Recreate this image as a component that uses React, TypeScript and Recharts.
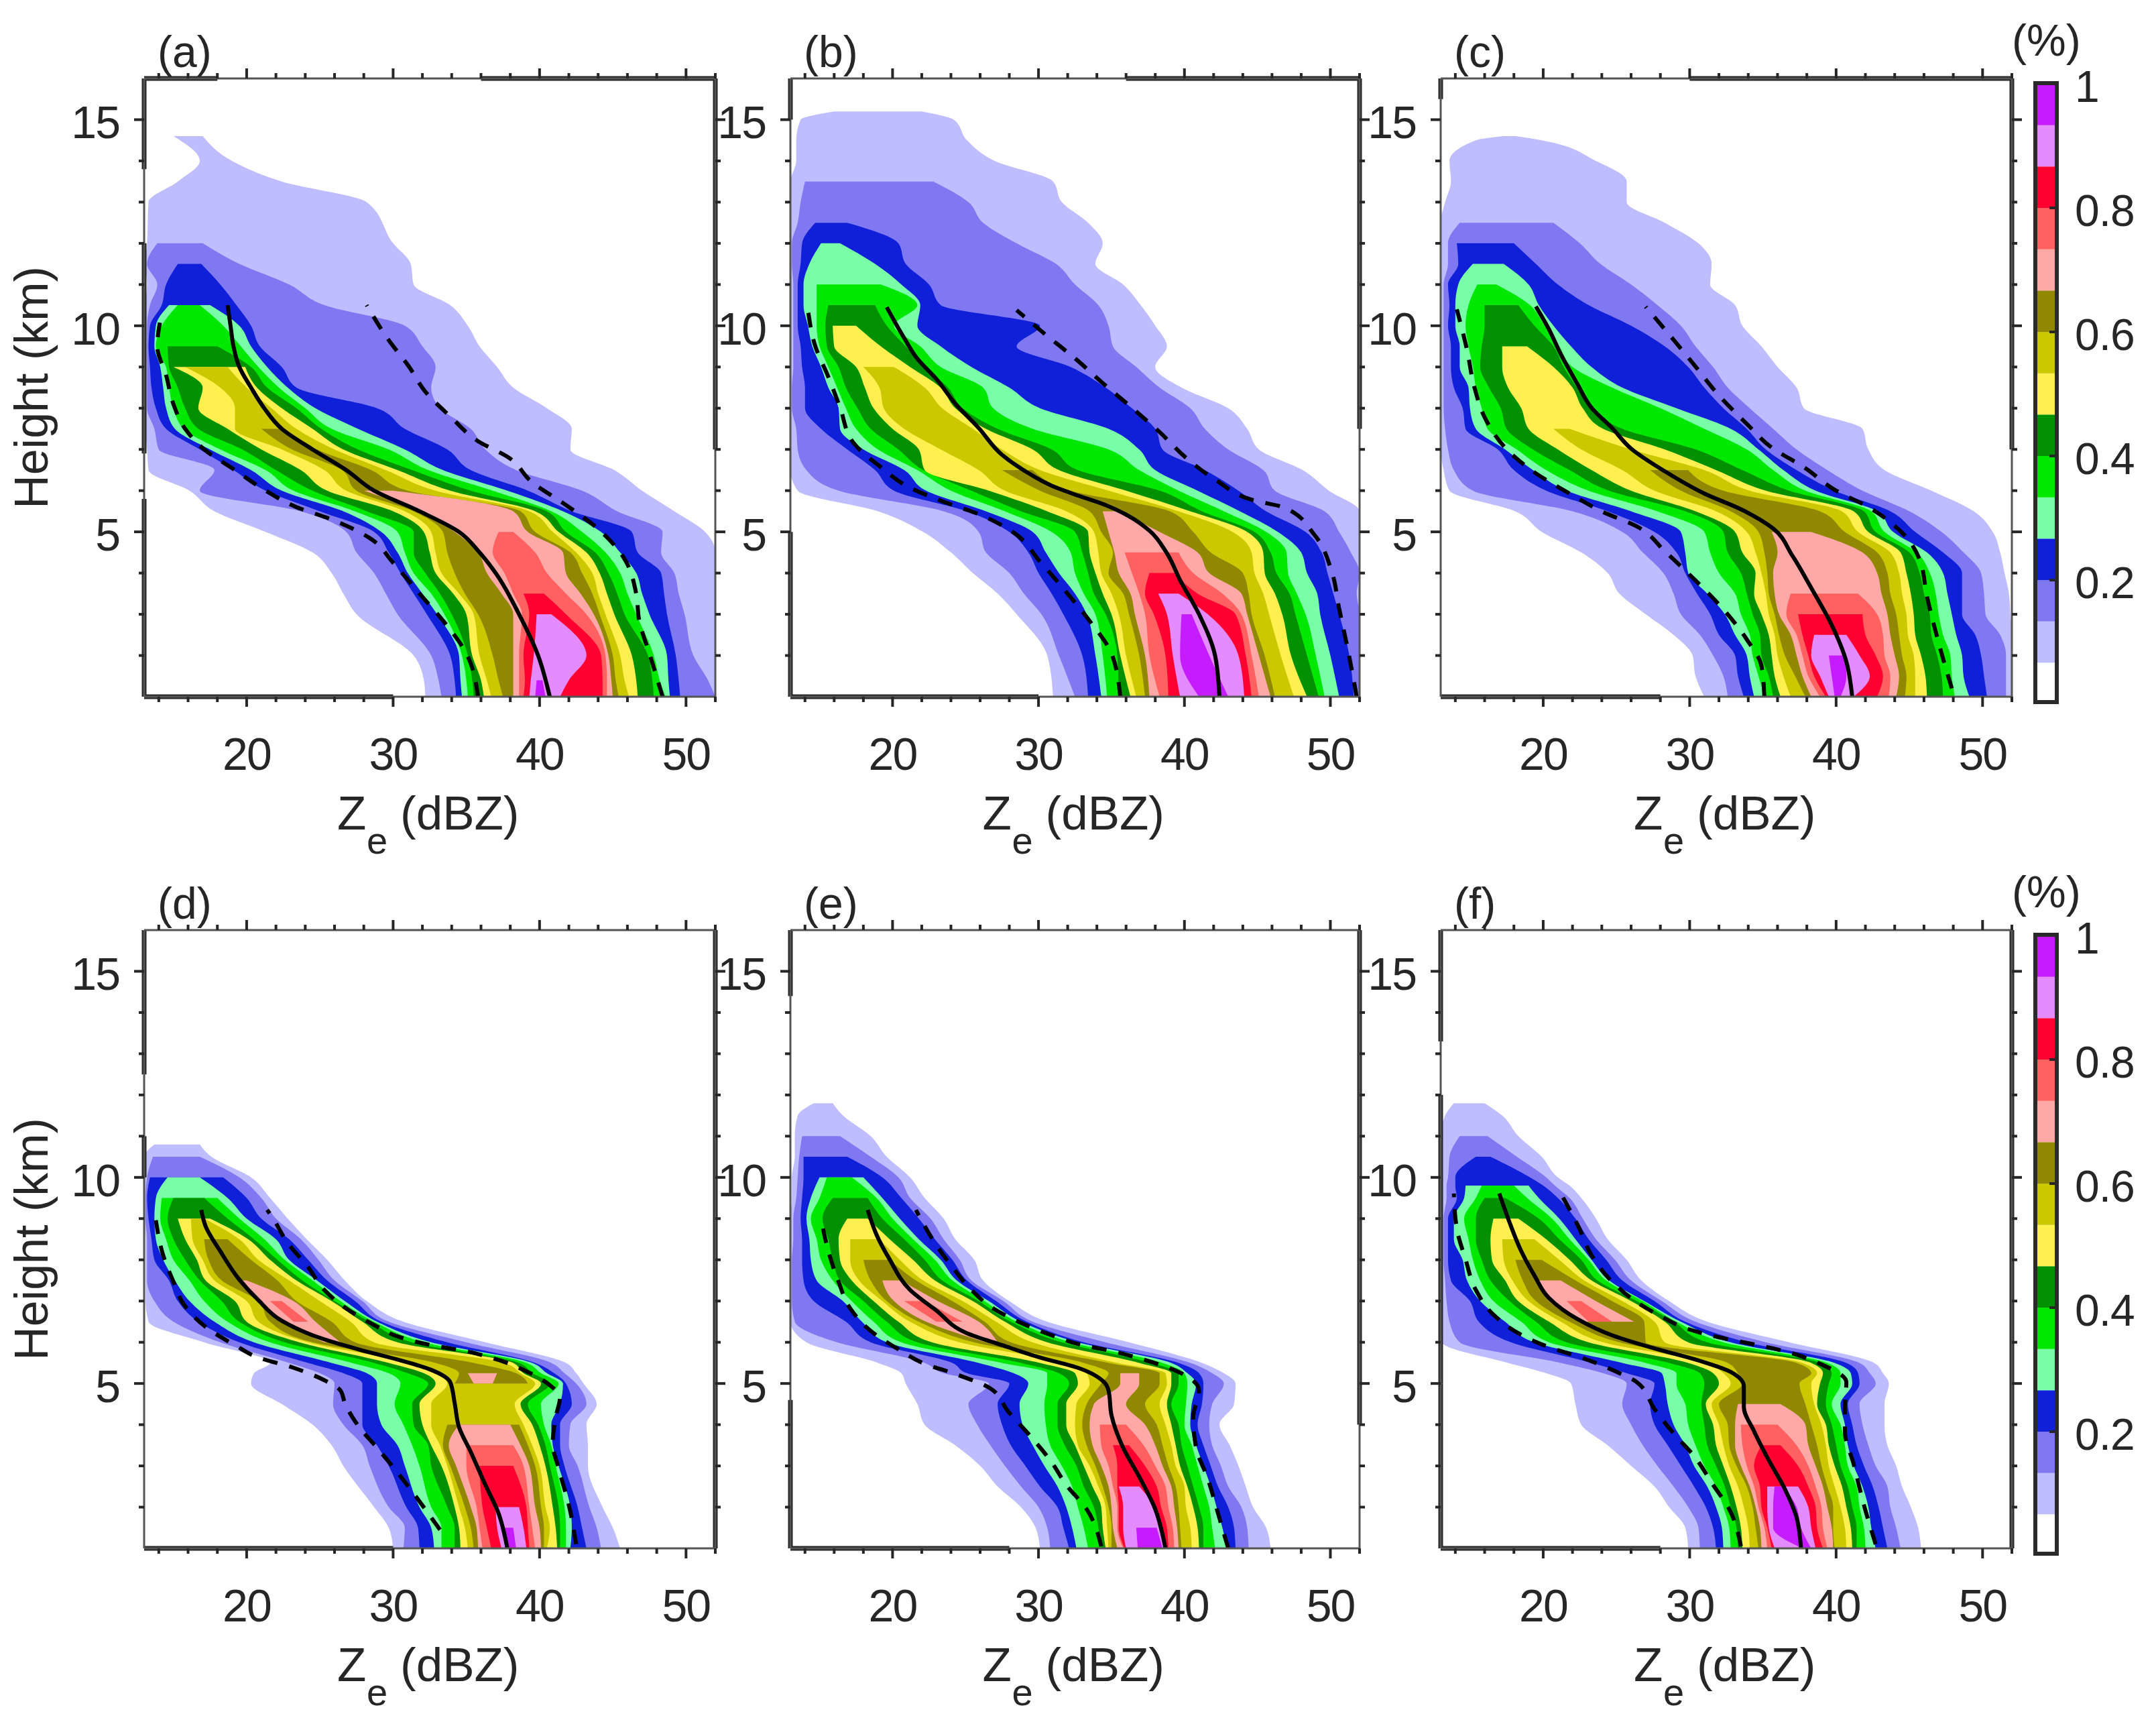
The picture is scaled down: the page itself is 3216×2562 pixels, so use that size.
import React from 'react';
import { ComposedChart, BarChart, Bar, Area, Line, XAxis, YAxis, ReferenceLine } from 'recharts';

// Band colours, from the lowest occurrence level to the highest
const BAND_COLORS = ['#BDBDFF','#8078F0','#1020D8','#78FFA8','#00E800','#009000','#FFF050','#CCC800','#8F8800','#FFA8A8','#FF6060','#FF0030','#E48CFF','#C41CFF'];
const X_TICKS = [14,16,18,20,22,24,26,28,30,32,34,36,38,40,42,44,46,48,50,52];
const Y_TICKS = [2,3,4,5,6,7,8,9,10,11,12,13,14,15];
const CB_TICKS = [0.2,0.4,0.6,0.8,1];
const CB_STEP = 1 / 15;

// Each row: height (km), left edges of bands (outer to inner), right edges of bands (outer to inner), in dBZ
type Row = [number, number[], number[]];
const A_ROWS: Row[] = [
[1,[32.2,33.3,34.3,34.7,35.1,35.5,36.2,36.7,37.5,38.2,38.6,38.9,39.3,39.7],[52,52,49.6,48.9,48.6,47.8,46.7,46.1,45.4,45,44.6,44.3,41.4,40.4]],
[1.4,[32.1,33.1,34.2,34.6,35,35.4,36,36.4,37.2,38.2,38.6,39,39.4,39.8],[52,51.5,49.5,48.8,48.2,47.7,46.6,45.8,45.2,44.9,44.6,44.3,42,40.2]],
[2,[31.4,32.6,33.9,34.5,34.7,35.1,35.4,35.9,36.8,38.2,38.6,38.9,39.6],[52,50.5,49.3,48.7,47.8,47.4,46.3,45.5,45,44.7,44.5,44.2,43.2]],
[3,[27.5,30.3,32.3,33,33.5,34,35,35.5,35.8,38.2,38.8,39.3,39.8],[52,49.9,48.7,47.5,46.6,45.8,45.1,44.5,44.1,43.7,43.2,41.8,40.8]],
[3.5,[26.6,29.5,31.4,32,32.6,33.2,34.1,34.5,34.9,37.4,38.2,38.9],[52,49.5,48.5,47,46,45.3,44.6,44,43.6,42.8,41.8,40.3]],
[4,[25.8,28.7,30.5,31,31.4,32.2,32.9,33.3,34.2,36.4,37.6],[52,49.2,48.3,46.6,45.5,44.7,44.1,43.6,42.9,41.8,40.5]],
[4.5,[24.5,27.5,29.7,30.3,30.8,31.4,32.5,32.9,33.7,35.8,36.8],[52,48.3,46.7,45.5,44.5,43.8,43.2,42.5,42.1,41.6,39.7]],
[5,[21.3,26.8,28.7,29.2,30.3,31.4,32.1,32.6,33.4,34.2,37.2],[51.3,48.4,46.3,44.2,42.9,41.8,41.3,40.9,39.7,39.2,38.2]],
[5.5,[17.8,23.7,25,26.6,27.4,28.2,30,30.8,31.4,31.8],[49.2,45.3,42.2,41.6,40.8,40.5,39.7,39.3,38.7,38.2]],
[6,[16.1,16.8,21.3,22.4,23.2,24.5,25.5,26.8,27.5,28],[47,42.9,39.2,37.8,36.8,35.3,33.9,32.9,31,30]],
[6.5,[13.3,17.8,19.1,20.3,21.3,22,23.7,25.3,26.5],[45.1,38.4,35.3,33.4,32.4,31.3,30.3,29.5,28.5]],
[7,[13.2,14,16.8,17.5,18.2,19.7,21,22.4,23.1,23.6],[42.1,36.3,33.7,30.8,29.7,27.6,26.6,26,24.8,24.2]],
[7.5,[13.1,13.7,14.5,15.1,15.7,16.7,18.7,19.2,21],[42.2,35.3,30.8,27.6,25.8,25.1,24.5,23.4,22.4]],
[8,[13.1,13.2,13.8,14.5,15,15.8,16.7,19.2],[40.5,33.2,28.9,24.7,24,23.4,22.4,21.7]],
[8.5,[13.1,13.2,13.5,14.3,14.7,15.3,17,18.2],[38.2,32.6,23.4,22.8,22.2,21.4,20.7,20]],
[9,[13.1,13.2,13.4,14.1,14.5,14.7,15,15.8],[37.1,32.9,22.4,21.4,20.8,20.3,19.9,18.7]],
[9.5,[13.1,13.2,13.3,13.7,13.8,14.6],[35.9,32,20.9,20.3,19.6,18]],
[10,[13.1,13.2,13.4,13.8,14.2],[35.1,30.8,20.3,19.5,18.4]],
[10.5,[13.1,13.4,14.2,14.7,15.3],[33.9,25.3,19.3,17.5,16.8]],
[11,[13.2,13.9,14.5],[31.4,22.9,18.2]],
[11.5,[13.1,13.2,15.3],[31.2,19.5,16.9]],
[12,[13.2,13.9],[30,17]],
[13,[13.3],[28.2]],
[13.5,[15.3],[22.4]],
[14,[16.8],[19]],
[14.6,[15],[17]],
];
const B_ROWS: Row[] = [
[1,[31,32.5,33.4,34.3,34.7,35.5,36.3,36.7,37.3,37.6,38.3,38.9,39.7,41],[52,52,51.6,50.6,49.6,49.2,48.4,47.5,46.2,45.9,45.1,44.6,44.1,43]],
[2,[30.6,31.4,33,33.9,34.4,35.4,35.6,36,36.9,37.3,37.6,38.7,39.2,39.7],[52,52,51.3,50,49,48.4,47.3,46.6,45.5,45.1,44.6,44.2,43.7,41.7]],
[3,[28.5,30.2,31.7,33.3,33.9,34.6,35,35.5,36.2,36.6,37.3,37.9,38.8,39.8],[52,52,50.6,49.3,48.3,47.6,46.7,45.8,44.6,44.3,43.9,43.5,41.6,40.5]],
[3.5,[27.2,29,30.9,32.5,33.1,33.8,34.4,35,35.8,36.3,36.9,37.3,38.2],[52,51.8,50.2,49.1,47.7,47.2,46.2,45.4,44.4,43.9,42.6,40.9,39.6]],
[4,[25.5,28,30,31.4,32.5,33.4,33.9,34.3,34.8,35.5,36.4,37.6],[52,52,49.8,48.4,47.1,46.3,45.5,44.8,44,41.7,40.6,39.3]],
[4.5,[24,26.4,29.3,30.5,32.2,33,33.5,34.1,35.1,35.2,35.9],[52,51.4,49.4,48,47,45.9,45.4,44.6,41.8,40.9,39.6]],
[5,[22.1,25.9,28,29.6,30.9,32.5,33.4,33.8,34.3,34.8],[52,50.6,48.3,46.4,45.6,44.8,44.3,43.3,40.6,38.3]],
[5.5,[19,23.5,25.1,26.4,27.7,28.8,30.6,31.9,33.5,34.4],[52,49.6,45.6,43.8,42.7,41.2,40.4,39.6,39,35.5]],
[6,[13.5,16.3,20.1,22.3,24,25.4,26.6,27.7,30.1],[49.9,46.2,43.7,40.9,39.6,38.3,36,34.8,32.2]],
[6.5,[13,14.1,18.8,20.8,21.7,22.1,22.2,25.9,27.5],[48.1,45.4,41.4,38,36.9,32.7,31.4,30.1,29.6]],
[7,[13,13.5,16.9,18,19,20.4,21.8,23.3],[45.1,43,38.5,36.9,34.8,30.9,29.6,27.5]],
[7.5,[13,13.4,15.1,16.4,17.5,18.5,20,20.8],[44.3,41.4,38,34.8,29.6,27.2,26.4,25.5]],
[8,[13,13.1,14,16.3,16.8,17.6,18.7,19.4],[43,40.4,36.4,30.1,26.9,24.8,24.3,23.4]],
[8.5,[13,13.1,14,15.6,16.2,16.8,18.1,19.1],[39.8,38.3,34.6,28,26.2,23.8,23.3,22.2]],
[9,[13,13.2,13.8,15.1,15.6,16.3,17.5,18],[38,36.7,32.2,25.4,23.3,22.2,21.2,20.1]],
[9.5,[13,13.2,13.7,14.5,15,15.5,16],[38.8,35.1,28.5,23.3,21.9,20.9,19.2]],
[10,[13,13.2,13.5,14.2,14.8,15.4,15.9],[38,34.8,30.1,21.7,20.1,19.6,17.5]],
[10.5,[13,13.2,13.5,13.9,14.8,15.6],[37,34.1,23.3,21.9,21.7,18.8]],
[11,[13,13.2,13.5,13.9,14.8],[35.8,32.5,22.5,20.6,19.2]],
[11.5,[13,13.1,13.7,14.3],[33.9,31.2,20.9,18.8]],
[12,[13,13.1,13.8,15.1],[34.4,28.5,20.4,16.4]],
[12.5,[13,13.5,14.7],[33.4,26.2,16.9]],
[13,[13,13.7],[31.6,25.2]],
[13.5,[13,14],[31,22.8]],
[14,[13.4],[27]],
[14.5,[13.4],[25.1]],
[15,[13.7],[24.2]],
[15.2,[16],[22]],
];
const C_ROWS: Row[] = [
[1,[31,32.6,33.7,34.4,35.1,35.7,36.2,36.9,37.9,38.3,38.9,39.3,39.5,39.9],[52,51.6,50.3,49.1,48.1,47.3,46.2,45.4,44.7,44.1,43.6,42.8,41.2,40.3]],
[1.5,[30.4,32.3,33.3,34.1,34.7,35.4,35.8,36.4,37.2,37.7,38.1,38.5,38.9,39.7],[52,51.6,50.1,48.7,47.9,47.2,46.1,45.4,44.8,44.3,43.7,43.2,42.3,40.7]],
[2,[30.2,31.6,33.1,33.9,34.3,34.9,35.6,36,36.5,37.3,37.7,38.1,38.3,39.5],[52,51.6,49.9,48.6,47.8,46.9,45.8,45.3,44.5,44,43.3,42.7,41.6,40.6]],
[2.5,[28.9,30.7,32,33.1,34.1,34.8,35.4,35.8,36.1,36.9,37.3,37.7,38.5],[52,51.2,49.5,48.2,47.3,46.5,45.4,44.9,44.3,43.7,43.2,42,40.7]],
[3,[27,29.4,31.4,32.4,33.5,34.3,34.9,35.4,35.8,36.1,36.6,37.4],[51.9,50.2,48.6,47.9,47,46.4,45.3,44.8,44.1,43.5,42.8,41.8]],
[3.5,[25.2,28.9,30.5,31.2,33.1,33.9,34.4,35.2,35.4,35.8,36.9],[51.8,50.1,48.6,47.6,46.8,46,45.1,44.5,43.7,43.1,41.5]],
[4,[24.4,28.2,29.7,29.9,32,33.5,34.5,34.9,35.3,35.7],[51.5,49.9,48.6,47.3,46.4,45.7,44.8,44.3,43.5,42.8]],
[4.5,[22.6,26.8,29.1,29.7,31.4,32.6,33.6,34.5,35.1,36],[51.2,48.7,47.3,46.2,45.5,45,44.4,43.7,42.8,41.8]],
[5,[19.9,25.4,27.6,29.4,31,32.3,33.1,33.9,34.7,35.6],[50.7,47.2,45.4,43.9,43.3,42.7,42.2,41.5,40.6,38.3]],
[5.5,[18.1,22,24.4,26,27.8,29.7,30.4,31.8,32.8],[49.4,45,43.7,42.8,42.4,41.9,41.2,40.4,38.9]],
[6,[13.6,15.2,20.2,21.6,23.1,24.5,26,27.6,29.4],[46.5,41.8,39.9,38.6,37.9,36.8,35.2,34.1,32.3]],
[6.5,[13.2,13.9,18,19.3,20.2,21.8,23.3,25.4,27.3],[43.3,39.4,37.3,36.4,35.7,33.6,31.8,31,29.9]],
[7,[13,13.5,16.9,17.4,18.2,19.3,21,22.6],[42.2,37.3,35.2,34.7,33.9,30.4,28.3,26]],
[7.5,[13,13.3,14.7,15.4,16.2,17.5,19,20.7],[41.8,35.7,33.9,32.8,31,25.4,24.1,21.8]],
[8,[13,13.2,14.5,15,15.8,17.1,18.5],[37.8,34.1,32.3,29.1,28,23.3,22.7]],
[8.5,[13,13.2,13.9,14.9,15.4,16.3,17.6],[37.3,32.6,31,25.4,24.7,22.3,22]],
[9,[13,13.2,13.7,14.3,15.2,15.7,17.2],[36,31.6,29.9,23.3,22,21.4,20.7]],
[9.5,[13,13.2,13.7,14.3,14.9,15.8,17.2],[34.9,30.4,28.3,21.9,21.1,20.7,18.9]],
[10,[13,13.2,13.5,14,14.7,16],[33.6,29.4,26,20.7,20.1,19.4]],
[10.5,[13,13.2,13.6,14,14.9,16],[33.1,27.8,23.1,19.7,19.1,18.3]],
[11,[13,13.2,13.5,14.2,15.5],[31.4,26,21,19,16.8]],
[11.5,[13,13.5,14.2,15.2],[31.5,23.9,19.5,17.3]],
[12,[13,13.5,14.1],[30.6,22.5,18]],
[12.5,[13,14.3],[28.3,20.7]],
[13,[13.3],[25.7]],
[13.5,[13.7],[25.7]],
[14,[13.6],[23.6]],
[14.5,[15.4],[19.9]],
[14.6,[17.3],[18.1]],
];
const D_ROWS: Row[] = [
[1,[30,30.7,31.8,32.8,33.3,34.2,34.6,35.1,35.5,35.8,36.1,36.7,37.4,37.8],[45.5,44.2,43.2,42.1,41.8,41.4,41.2,40.5,40.3,40.1,39.7,39.3,39.1,38.4]],
[1.5,[29.7,30.8,31.7,32.6,33.3,34.2,34.5,34.9,35.3,35.7,35.9,36.4,37.1,37.5],[45,43.9,42.9,42.2,41.8,41.4,41.1,40.7,40.3,40,39.5,39.2,38.9,38.2]],
[2,[28.7,29.7,30.9,31.8,32.6,33.7,34.2,34.5,34.9,35.3,35.7,36.1,37],[44.3,43.4,42.6,42.1,41.7,41.3,40.9,40.4,40.1,39.7,39.3,39.1,38.6]],
[3,[26.6,28.4,29.7,30.8,31.8,32.6,33.3,33.7,33.9,34.3,35,35.9],[43.3,42.6,41.7,41.3,41.1,40.7,40.4,40,39.7,39.3,38.9,38.2]],
[3.5,[25.8,27.9,28.9,30.3,31.3,32.4,32.6,33.2,33.4,33.8,35],[43.3,42,41.4,40.9,40.8,40.4,40,39.5,39.2,38.7,38.2]],
[4,[24.5,26.6,27.9,29.2,30.7,31.4,32,32.6,33.7,34.5],[43.2,42.1,41.4,40.8,40.3,39.9,39.5,38.9,38.6,38]],
[4.5,[22.4,25.9,27.9,28.9,30.1,31.3,31.8,32.6],[43.9,43.2,42.2,41.4,40.1,39.2,38.7,38.3]],
[5,[20.3,26,27.9,28.9,30.5,32.4,32.9,33.7,34.2,35.5],[43,42.5,41.8,41.6,41.3,40.7,40.1,39.7,39.2,36.8]],
[5.25,[20.5,25,26.6,28.2,29.7,31,32.1,32.9,34.5,35.1],[42.5,41.7,41,40.5,40.1,39.5,38.9,38.7,38.4,37.1]],
[5.5,[21.6,22.9,24.2,25.8,27.2,28.7,29.7,31,32.9],[41.8,40.8,39.7,39.5,39.1,38.6,38.2,37.6,35.5]],
[6,[17.1,18.2,19.5,20.5,21.6,22.6,23.6,24.2,24.5,25.3],[36.3,35,33.7,32.6,32.1,31.3,30.3,28.7,27.4,26.4]],
[6.5,[13.3,15,16.7,17.8,18.7,19.5,20,20.8,21.6,22.4,23.2],[30.7,29.7,29.2,28.9,28.7,28.4,27.9,27.1,25.8,24.7,24.2]],
[7,[13.1,13.7,15.3,16.1,17.1,18.3,19.2,20,20.8,21,21.6],[28.2,27.9,27.4,26.7,26.4,26,25.8,25,23.4,23.2,22.4]],
[7.5,[13.1,13.2,14.7,15.1,16.1,16.8,17.2,17.8,18.3,19.5],[26.7,26,25.5,24.8,24.5,23.8,23.4,22.9,22.1,20]],
[8,[13.1,13.2,13.7,14.3,15,15.8,16.6,17,17.4],[25.5,24.9,24.2,22.9,22.6,22.1,21.6,20.8,20.3]],
[8.5,[13.1,13.2,13.5,13.8,14.5,15,15.8,16.3,17.1],[24.1,23.7,22.9,22,21.2,20.5,20.1,19.5,18.7]],
[9,[13,13.1,13.3,13.7,14.1,14.6,15.3,16.2],[22.8,22,21,20,19.5,18.7,17.5,17.1]],
[9.5,[13,13.1,13.2,13.8,14.2,15],[21.6,21,20,18.7,18,17.1]],
[10,[13,13.2,13.4,14.6],[20.3,19.5,18.4,16.8]],
[10.5,[13,13.6],[17.6,16.8]],
[10.8,[13.7],[16.8]],
];
const E_ROWS: Row[] = [
[1,[30.1,30.8,32.1,32.6,33.4,34.3,34.6,34.8,35,35.4,35.8,35.9,36,36.8],[45.9,44.4,43.5,42.9,42.1,41.3,41,40.5,39.8,39.6,39.3,38.9,38.7,38.5]],
[1.5,[29.8,30.6,31.7,32.3,33.1,34.1,34.4,34.7,35,35.1,35.4,35.5,35.8,36.7],[45.6,44.3,43.4,42.6,41.9,41.3,40.9,40.4,39.7,39.5,39.2,38.8,38.5,38.1]],
[2,[28.8,30,31.3,31.9,32.7,33.8,34.3,34.6,34.8,35,35.4,35.5,35.8],[44.7,43.9,43,42.2,41.7,41,40.6,40.1,39.6,39.3,38.9,38.4,38]],
[2.5,[27.2,28.8,30.1,31.3,32.3,33.1,33.7,34.1,34.4,34.8,35.1,35.4,35.5],[44.2,43,42.3,41.8,41.3,40.6,40.2,40,39.4,39.1,38.7,38.1,36.9]],
[3,[26,27.7,29.1,30.4,31.6,32.6,33.1,33.5,33.9,34.3,34.8,35.4],[43.7,42.5,41.8,41.3,40.9,40.2,39.7,39.4,38.9,38.5,38,37.3]],
[3.5,[24.3,26.7,28.1,29.6,30.8,31.8,32.5,32.7,33.3,33.7,34.3,35.1],[43.1,41.9,41.3,40.8,40.5,39.8,39.4,39.1,38.5,38,37.2,36.2]],
[4,[22.2,25.8,27.5,28.9,30.5,31.3,31.9,32.5,33,33.5,34.2],[42.4,41.7,40.9,40.4,40,39.6,39.1,38.7,38.1,37.3,36]],
[4.5,[21.7,25.2,27.2,28.7,30.4,31.3,31.9,32.6,33.3,33.8],[43.4,41.9,41.2,40.5,40.1,39.1,38.8,38.3,37.3,36]],
[5,[20.9,26.6,28,29.3,30.6,32.1,32.7,33.5,34.3,35.6],[43.5,42.7,41.3,40.8,40.2,39.6,39.1,38.8,38.3,36.9]],
[5.25,[20.6,23.5,25.1,28.3,30.6,31.4,32.5,33.3,34.8,35.6],[42.7,41.9,41,40.2,40,39.6,39.1,38.7,38.3,36.9]],
[5.5,[19,22.2,24.1,25.9,27.5,28.8,30.1,31.7,33.1],[41.2,40.4,39.6,39.1,38.5,37.7,36.9,35.4,34.8]],
[6,[14.1,16.2,18.5,19.6,20.6,21.7,22.7,24.6,25.6,26.4],[36.2,34.6,33.1,32.7,32.2,31.6,30.6,29.6,28.1,27.2]],
[6.5,[13,13.3,16.8,17.9,18.7,19.6,20.4,21.2,21.8,22.3,23],[30.6,29.6,29.2,28.8,28.5,28.1,27.7,27.1,26.3,25.9,24.8]],
[7,[13,13.1,14.6,16.6,17.2,18,18.7,19.3,19.6,20.1,20.8],[28,27.6,27.1,26.6,26.3,25.9,25.5,24.8,24.1,23.1,22.2]],
[7.5,[13,13.1,13.9,14.8,15.9,16.4,17.2,17.7,18.5,19.3],[26.2,25.4,25.1,24.4,24.1,23.4,22.9,22.1,21.6,20.6]],
[8,[13,13.1,13.8,14.4,15.1,15.9,16.4,17.1,18],[25.6,24.6,24.1,23.3,22.9,22.2,21.4,20.5,19.8]],
[8.5,[13,13.2,13.8,14.3,14.8,15.6,16.3,17.1],[24.3,23.5,22.9,21.8,21.4,20.8,19.8,19.1]],
[9,[13,13.2,13.7,14.1,14.4,15.2,16.9],[23.5,22.6,21.8,20.5,20,19.3,18.3]],
[9.5,[13.1,13.4,13.8,14.4,15,15.9],[22.2,21.2,20.6,19.3,18.9,18.3]],
[10,[13.1,13.5,13.9,15,15.5],[21.2,20.4,19.3,18,17.2]],
[10.5,[13.3,13.6,13.9],[19.6,18.5,16.9]],
[11,[13.3,13.8],[18.5,16.4]],
[11.5,[13.5],[16.6]],
[11.8,[14.6],[15.9]],
];
const F_ROWS: Row[] = [
[1,[29.9,30.7,31.8,32.3,32.8,33.3,33.6,34.1,34.7,34.9,35.3,35.6,35.8,37.7],[45.8,44.4,43.5,42.7,42,41.4,41.1,40.7,39.9,39.8,39.4,39.1,38.6,38.3]],
[1.5,[29.7,30.6,31.6,32.2,32.7,33.2,33.5,34,34.5,34.8,35.1,35.3,35.4,35.7],[45.6,44.1,43.2,42.4,41.9,41.4,41,40.6,39.8,39.7,39.1,38.7,38.3,37.6]],
[2,[28.6,29.9,31.1,31.8,32.3,32.8,33.2,33.7,34.3,34.5,34.7,34.9,35.3,35.7],[45.1,43.7,42.9,42.2,41.6,41.1,40.7,40.3,39.8,39.4,39,38.6,38.1,37.3]],
[2.5,[27.6,28.9,30.3,31.2,31.8,32.4,32.8,33.3,33.9,34.1,34.4,34.8,35.3,35.8],[44.5,43.5,42.5,41.8,41.4,40.8,40.4,39.9,39.4,39.1,38.6,38.1,37.4,36.4]],
[3,[26,27.8,29.4,30.3,31,31.8,32.3,32.7,33.2,33.5,33.9,34.4],[44.1,42.7,41.9,41.2,40.8,40.3,39.9,39.5,39,38.6,38.1,37.4]],
[3.5,[24.4,26.8,28.5,29.7,30.4,31.2,31.8,32.3,32.7,33.1,33.6,34.9],[43.5,42.2,41.4,40.8,40.6,40,39.5,39.3,38.7,38.1,37.3,36.2]],
[4,[22.6,26,27.6,28.9,29.9,31,31.6,32,32.6,33.1,33.5],[43.3,41.8,41.1,40.6,40.3,39.7,39.3,39,38.3,37.9,36]],
[4.5,[22.2,25.4,27.3,28.5,29.7,30.8,31.1,31.5,32,33.3],[43.3,41.6,40.8,40.3,39.7,39.3,38.7,38.5,37.9,36.2]],
[5,[21.9,25.7,27.6,28.3,29.1,31,32,32.8,33.6],[43.6,42.7,41.6,41.1,40.3,39.5,38.9,38.3,37.5]],
[5.25,[20.2,24.1,25.7,28.1,29.1,30.7,31.6,32.3,33.3],[43.2,42.3,41.5,41,40.3,39.7,39.1,38.7,38.3]],
[5.5,[17.6,21.2,23.3,25.4,27,28.6,29.9,31.2,32.6],[42.6,41.6,40.7,39.9,39.4,38.9,38.3,37.7,37.3]],
[6,[13.1,14.3,17.8,19.4,20.4,21.6,23.1,24.1,25.2],[36.8,35.2,33.9,32.8,32.3,31.2,29.9,28.3,27]],
[6.5,[13,13.6,15.6,17.4,18.5,19.5,20.4,21.2,21.8,22.4,23.1],[31.2,30.4,29.7,29.4,29.1,28.9,28.3,27.6,26.9,26.2,24.7]],
[7,[13,13.4,15,15.7,16.6,17.7,18.3,19,19.5,20.4,21.6],[28.6,28.1,27.6,26.9,26.8,26.4,26,25.4,24.7,23.6,22.6]],
[7.5,[13,13.3,13.7,14.8,15.7,16.4,17.4,17.9,18.6,19.7],[26.7,26,25.4,24.5,24.3,23.7,23.3,22.8,22.2,21.2]],
[8,[13,13.2,13.5,14.5,15.2,15.8,16.5,17.3,18.1],[25.7,24.9,24.3,23.3,23.1,22.6,21.8,21.1,19.9]],
[8.5,[13,13.2,13.5,13.9,14.9,15.4,16.4,17.2],[24.4,23.6,23.1,22.2,21.8,21.1,20.2,19.4]],
[9,[13.1,13.2,13.5,13.9,14.6,15.4,16.6],[23.6,22.7,22.2,21.1,20.6,19.7,18.3]],
[9.5,[13,13.4,14.1,14.6,15.4,16],[22.6,21.8,21,19.7,18.9,17.4]],
[9.8,[13.1,13.4,14,14.7,15.8],[21.8,20.8,20,19,18]],
[10,[13.1,13.5,14],[21,20.2,19.1]],
[10.5,[13,13.6,15.4],[19.9,18.2,16.4]],
[11,[13,14.3],[18.3,16.2]],
[11.5,[13.3],[17.2]],
[11.8,[13.9],[16]],
];

// Lines: [dBZ, km]
const A_MEAN = [[40.7,1],[39.9,2],[38.6,3],[37,4],[35.9,4.5],[34.5,5],[31.8,5.5],[28.7,6],[26.8,6.5],[24.5,7],[22.4,7.5],[21.2,8],[20.3,8.5],[19.5,9],[19.1,9.5],[18.9,10],[18.7,10.5]];
const A_LEFT = [[35.8,1],[35,2.05],[33.4,2.85],[31.8,3.5],[30,4.25],[28.4,4.85],[25.8,5.3],[23.4,5.6],[21.3,6],[19.2,6.5],[17.1,7],[15.8,7.5],[15,8.1],[14.5,8.8],[13.9,9.5],[14.2,10.3]];
const A_RIGHT = [[48.4,1],[47.5,2.05],[46.8,2.85],[46.6,3.5],[45.7,4.4],[43.9,5.1],[41.6,5.7],[39.5,6.2],[37.9,6.8],[35.8,7.2],[33.9,7.8],[32.2,8.4],[31.1,9],[29.6,9.7],[28.2,10.5]];
const B_MEAN = [[42.4,1],[42.1,2],[41,3],[39.7,3.83],[38.8,4.48],[37.6,5.03],[36.2,5.38],[34.6,5.65],[32.7,5.88],[30.9,6.12],[29.1,6.47],[27.5,6.87],[25.9,7.52],[24.3,8.11],[23,8.71],[21.7,9.2],[20.8,9.7],[19.6,10.45]];
const B_LEFT = [[35.6,1],[35,2.05],[33.5,2.84],[31.9,3.54],[30.1,4.28],[28.3,4.98],[25.9,5.43],[23.5,5.73],[21.2,6.07],[19.2,6.57],[17.3,7.17],[16.4,8.02],[15.6,8.76],[14.7,9.51],[14.2,10.4]];
const B_RIGHT = [[51.8,1],[51.2,2.14],[50.6,3.14],[50.1,4.03],[48.9,4.93],[46.9,5.58],[44.6,5.78],[42.3,6.22],[40.2,6.77],[38.3,7.42],[36.4,8.01],[34.4,8.61],[32.5,9.21],[30.4,9.81],[28.5,10.38]];
const C_MEAN = [[41.1,1],[40.7,1.85],[39.7,2.74],[38.3,3.64],[37,4.43],[35.7,5.08],[33.6,5.53],[31,5.93],[28.3,6.47],[26,7.02],[24.7,7.52],[23.3,8.01],[22.3,8.61],[21.2,9.31],[20.4,9.91],[19.5,10.47]];
const C_LEFT = [[35.1,1],[34.9,1.75],[33.9,2.39],[32,3.24],[30.2,3.89],[28.3,4.53],[26.4,5.13],[24.1,5.48],[21.8,5.93],[19.5,6.42],[17.6,6.97],[16.1,7.71],[15.3,8.51],[14.8,9.41],[14.1,10.4]];
const C_RIGHT = [[47.9,1.2],[46.9,2.44],[46.2,3.44],[45.7,4.33],[44.5,4.98],[42.3,5.58],[39.9,6.02],[37.8,6.57],[35.7,7.02],[33.9,7.62],[32,8.31],[30.4,9.01],[28.9,9.66],[27,10.46]];
const D_MEAN = [[37.8,1],[37.2,1.85],[36.3,2.54],[35.3,3.34],[34.5,3.94],[34.2,4.53],[33.9,5.03],[32.6,5.33],[30.3,5.58],[27.6,5.83],[24.5,6.17],[22.4,6.52],[20.8,7.02],[19.5,7.52],[18.2,8.21],[17.2,8.81],[16.9,9.21]];
const D_LEFT = [[33.2,1.45],[31.8,2.14],[30.3,2.84],[28.9,3.44],[27.6,3.98],[26.7,4.53],[26.4,4.83],[25.3,5.08],[23.2,5.38],[20.8,5.63],[19.2,5.93],[17.4,6.32],[15.8,6.87],[15,7.47],[14.3,8.11],[13.8,8.96]];
const D_RIGHT = [[42.5,1.1],[42,2.05],[41.3,2.94],[40.9,3.54],[41.1,4.18],[41.4,4.68],[40.8,4.93],[39.2,5.28],[37.1,5.58],[35,5.78],[32.6,5.93],[30.5,6.12],[28.7,6.42],[26.8,6.82],[25.3,7.27],[24.2,7.82],[22.8,8.41],[21.7,9.06],[21.4,9.21]];
const E_MEAN = [[38.7,1],[38,1.95],[36.9,2.74],[35.8,3.44],[35,4.23],[34.8,4.83],[34.5,5.03],[32.7,5.38],[30.1,5.63],[27.5,5.93],[25.1,6.22],[23,6.77],[21.2,7.27],[19.8,8.01],[18.9,8.61],[18.3,9.21]];
const E_LEFT = [[34.3,1.05],[33.3,1.95],[31.9,2.54],[30.9,3.09],[29.4,3.74],[27.9,4.33],[26.7,4.88],[24.3,5.23],[22.2,5.48],[20.4,5.83],[18.7,6.22],[17.1,6.82],[16.3,7.47],[15.6,8.21],[15.1,9.01]];
const E_RIGHT = [[43,1],[42.3,1.85],[41.6,2.69],[40.8,3.44],[40.6,4.18],[41,4.83],[39.6,5.28],[37.2,5.58],[35.1,5.78],[33,5.93],[30.9,6.17],[28.8,6.47],[26.9,6.82],[25.4,7.27],[24.1,7.82],[22.9,8.41],[21.6,9.21]];
const F_MEAN = [[37.6,1],[37.3,1.75],[36.5,2.44],[35.4,3.14],[34.4,3.84],[33.7,4.43],[33.7,4.93],[32.8,5.28],[30.4,5.58],[27.8,5.83],[24.7,6.17],[22.3,6.57],[20.4,7.07],[19.4,7.62],[18.5,8.21],[17.7,8.91],[17,9.61]];
const F_LEFT = [[33.5,1.05],[32.7,1.95],[31.6,2.54],[30.3,3.24],[28.9,3.79],[27.6,4.38],[26.4,5.03],[24.7,5.33],[22.6,5.63],[20.4,5.88],[18.3,6.22],[16.6,6.67],[15.4,7.27],[14.7,8.01],[14.1,8.76],[13.9,9.61]];
const F_RIGHT = [[42.7,1.1],[41.9,2.05],[41.2,3.04],[40.6,3.84],[40.6,4.43],[40.7,5.03],[38.9,5.48],[36.5,5.78],[34.1,5.97],[32,6.12],[29.9,6.32],[28.1,6.62],[26.2,7.02],[24.7,7.47],[23.3,8.11],[22.4,8.81],[21.2,9.61]];

// Heavier stretches of the frame: [dBZ or km from, to]
const A_FRAME = { top: [[13,18],[36,52]], bottom: [[13,30]], left: [[16,13.8],[12,6.9],[5.8,1]], right: [[16,7]] };
const B_FRAME = { top: [[36,52]], bottom: [[13,30]], left: [[16,15],[5,1]], right: [[16,7.5]] };
const C_FRAME = { top: [[30,52]], bottom: [[13,28]], left: [[16,15.5]], right: [[16,7]] };
const D_FRAME = { top: [], bottom: [[13,30]], left: [[16,12.5],[11,10]], right: [[16,1]] };
const E_FRAME = { top: [], bottom: [[13,28]], left: [[16,14.4],[4.6,1]], right: [[16,4]] };
const F_FRAME = { top: [], bottom: [[13,28]], left: [[16,13.3],[12,5],[5,1]], right: [[16,1]] };

const FONT = '"Liberation Sans", Arial, sans-serif';
const INK = '#262626';
const ML = 225, MR = 30, MT = 90, MB = 265;

const tableOf = (rows: Row[]) => rows.map(([h, L, R]) => {
  const row: any = { h };
  L.forEach((l, k) => { if (R[k] != null) row['b' + k] = [l, R[k]]; });
  return row;
});
const lineOf = (pts: number[][]) => pts.map(([z, h]) => ({ z, h }));

const BottomTick = (p: any) => {
  const v = p.payload.value; const major = v % 10 === 0;
  return <g>
    <line x1={p.x} x2={p.x} y1={p.y} y2={p.y + (major ? 15 : 8)} stroke={INK} strokeWidth={4} />
    {major && <text x={p.x} y={p.y + 109} textAnchor="middle" fontFamily={FONT} fontSize={68} fill={INK} letterSpacing={-2}>{v}</text>}
  </g>;
};
const TopTick = (p: any) => {
  const major = p.payload.value % 10 === 0;
  return <line x1={p.x} x2={p.x} y1={p.y} y2={p.y - (major ? 15 : 8)} stroke={INK} strokeWidth={4} />;
};
const LeftTick = (p: any) => {
  const v = p.payload.value; const major = v % 5 === 0;
  return <g>
    <line x1={p.x} x2={p.x - (major ? 15 : 8)} y1={p.y} y2={p.y} stroke={INK} strokeWidth={4} />
    {major && <text x={p.x - 37} y={p.y + 28} textAnchor="end" fontFamily={FONT} fontSize={68} fill={INK} letterSpacing={-2}>{v}</text>}
  </g>;
};
const RightTick = (p: any) => {
  const major = p.payload.value % 5 === 0;
  return <line x1={p.x} x2={p.x + (major ? 15 : 8)} y1={p.y} y2={p.y} stroke={INK} strokeWidth={4} />;
};

type Frame = { top: number[][]; bottom: number[][]; left: number[][]; right: number[][] };
type PanelProps = { x: number; y: number; w: number; rows: Row[]; mean: number[][]; left: number[][]; right: number[][]; frame: Frame; tag: string; showY: boolean; };
const PLOT_H = 922;
const frameLine = (k: string, seg: any[]) => <ReferenceLine key={k} segment={seg} stroke={INK} strokeWidth={7} ifOverflow="visible" />;

function Panel({ x, y, w, rows, mean, left, right, frame, tag, showY }: PanelProps) {
  const data = tableOf(rows);
  const zx = ML + w / 2 - 138, zy = MT + PLOT_H + 198;
  const hx = ML - 144, hy = MT + PLOT_H / 2;
  return (
    <div style={{ position: 'absolute', left: x - ML, top: y - MT }}>
      <ComposedChart layout="vertical" width={w + ML + MR} height={PLOT_H + MT + MB} data={data} margin={{ top: 0, right: 0, bottom: 0, left: 0 }}>
        {BAND_COLORS.map((c, k) => (
          <Area key={k} dataKey={'b' + k} type="monotone" fill={c} fillOpacity={1} stroke="none" dot={false} activeDot={false} isAnimationActive={false} />
        ))}
        <Line data={lineOf(left)} dataKey="z" type="monotone" stroke="#000" strokeWidth={6} strokeDasharray="22 18" dot={false} activeDot={false} isAnimationActive={false} />
        <Line data={lineOf(right)} dataKey="z" type="monotone" stroke="#000" strokeWidth={6} strokeDasharray="22 18" dot={false} activeDot={false} isAnimationActive={false} />
        <Line data={lineOf(mean)} dataKey="z" type="monotone" stroke="#000" strokeWidth={6} dot={false} activeDot={false} isAnimationActive={false} />
        <XAxis xAxisId={0} type="number" domain={[13, 52]} ticks={X_TICKS} interval={0} height={MB} tick={BottomTick} tickLine={false} tickSize={0} tickMargin={0} allowDataOverflow
          axisLine={{ stroke: '#555', strokeWidth: 3 }}
          label={() => (
            <g fontFamily={FONT} fill={INK}>
              <text x={zx} y={zy} fontSize={71}>Z</text>
              <text x={zx + 44} y={zy + 36} fontSize={56}>e</text>
              <text x={zx + 94} y={zy} fontSize={71}>(dBZ)</text>
            </g>
          )} />
        <XAxis xAxisId="top" orientation="top" type="number" domain={[13, 52]} ticks={X_TICKS} interval={0} height={MT} tick={TopTick} tickLine={false} tickSize={0} tickMargin={0} allowDataOverflow
          axisLine={{ stroke: '#555', strokeWidth: 3 }}
          label={() => <text x={ML + 20} y={MT - 17} fontFamily={FONT} fontSize={66} fill={INK}>{tag}</text>} />
        <YAxis yAxisId={0} type="number" dataKey="h" reversed domain={[1, 16]} ticks={Y_TICKS} interval={0} width={ML} tick={LeftTick} tickLine={false} tickSize={0} tickMargin={0} allowDataOverflow
          axisLine={{ stroke: '#555', strokeWidth: 3 }}
          label={showY ? () => (
            <text x={hx} y={hy} transform={`rotate(-90 ${hx} ${hy})`} textAnchor="middle" fontFamily={FONT} fontSize={70} fill={INK}>Height (km)</text>
          ) : undefined} />
        <YAxis yAxisId="right" orientation="right" type="number" dataKey="h" reversed domain={[1, 16]} ticks={Y_TICKS} interval={0} width={MR} tick={RightTick} tickLine={false} tickSize={0} tickMargin={0} allowDataOverflow
          axisLine={{ stroke: '#555', strokeWidth: 3 }} />
        {frame.top.map(([a, b], i) => frameLine('t' + i, [{ x: a, y: 16 }, { x: b, y: 16 }]))}
        {frame.bottom.map(([a, b], i) => frameLine('b' + i, [{ x: a, y: 1 }, { x: b, y: 1 }]))}
        {frame.left.map(([a, b], i) => frameLine('l' + i, [{ x: 13, y: a }, { x: 13, y: b }]))}
        {frame.right.map(([a, b], i) => frameLine('r' + i, [{ x: 52, y: a }, { x: 52, y: b }]))}
      </ComposedChart>
    </div>
  );
}

const CB_ROW = [Object.fromEntries(BAND_COLORS.map((_, k) => ['s' + k, CB_STEP]).concat([['c', 'bar'], ['w', CB_STEP]]))];
const CB_PAD = 60;
const CbTick = (p: any) => {
  const v = p.payload.value;
  return <g>
    <line x1={p.x - 10} x2={p.x} y1={p.y} y2={p.y} stroke={INK} strokeWidth={4} />
    <text x={p.x + 28} y={p.y + 27} fontFamily={FONT} fontSize={66} fill={INK} letterSpacing={-1}>{v}</text>
  </g>;
};
function Colorbar({ top }: { top: number }) {
  const h = 925;
  return (
    <>
      <div style={{ position: 'absolute', left: 3037, top: top - CB_PAD, width: 179 }}>
        <BarChart width={179} height={h + CB_PAD} data={CB_ROW} barCategoryGap={0} margin={{ top: CB_PAD, right: 0, bottom: 0, left: 0 }}>
          <XAxis dataKey="c" hide />
          <YAxis orientation="right" type="number" domain={[0, 1]} ticks={CB_TICKS} interval={0} width={149} tick={CbTick} tickLine={false} tickSize={0} tickMargin={0} axisLine={false} />
          <Bar dataKey="w" stackId="s" fill="#FFFFFF" isAnimationActive={false} />
          {BAND_COLORS.map((c, k) => <Bar key={k} dataKey={'s' + k} stackId="s" fill={c} isAnimationActive={false} />)}
        </BarChart>
      </div>
      <div style={{ position: 'absolute', left: 3033, top: top - 4, width: 26, height: 917, border: '6px solid #2a2a2a', boxSizing: 'content-box' }} />
      <div style={{ position: 'absolute', left: 3001, top: top - 105, fontFamily: FONT, fontSize: 66, color: INK, lineHeight: '80px' }}>(%)</div>
    </>
  );
}

export default function App() {
  return (
    <div style={{ position: 'absolute', left: 0, top: 0, width: 3216, height: 2562, background: '#fff', overflow: 'hidden' }}>
      <Panel x={215} y={117} w={852} rows={A_ROWS} mean={A_MEAN} left={A_LEFT} right={A_RIGHT} frame={A_FRAME} tag="(a)" showY />
      <Panel x={1179} y={117} w={849} rows={B_ROWS} mean={B_MEAN} left={B_LEFT} right={B_RIGHT} frame={B_FRAME} tag="(b)" showY={false} />
      <Panel x={2149} y={117} w={852} rows={C_ROWS} mean={C_MEAN} left={C_LEFT} right={C_RIGHT} frame={C_FRAME} tag="(c)" showY={false} />
      <Panel x={215} y={1387} w={852} rows={D_ROWS} mean={D_MEAN} left={D_LEFT} right={D_RIGHT} frame={D_FRAME} tag="(d)" showY />
      <Panel x={1179} y={1387} w={849} rows={E_ROWS} mean={E_MEAN} left={E_LEFT} right={E_RIGHT} frame={E_FRAME} tag="(e)" showY={false} />
      <Panel x={2149} y={1387} w={852} rows={F_ROWS} mean={F_MEAN} left={F_LEFT} right={F_RIGHT} frame={F_FRAME} tag="(f)" showY={false} />
      <Colorbar top={125} />
      <Colorbar top={1395} />
    </div>
  );
}
